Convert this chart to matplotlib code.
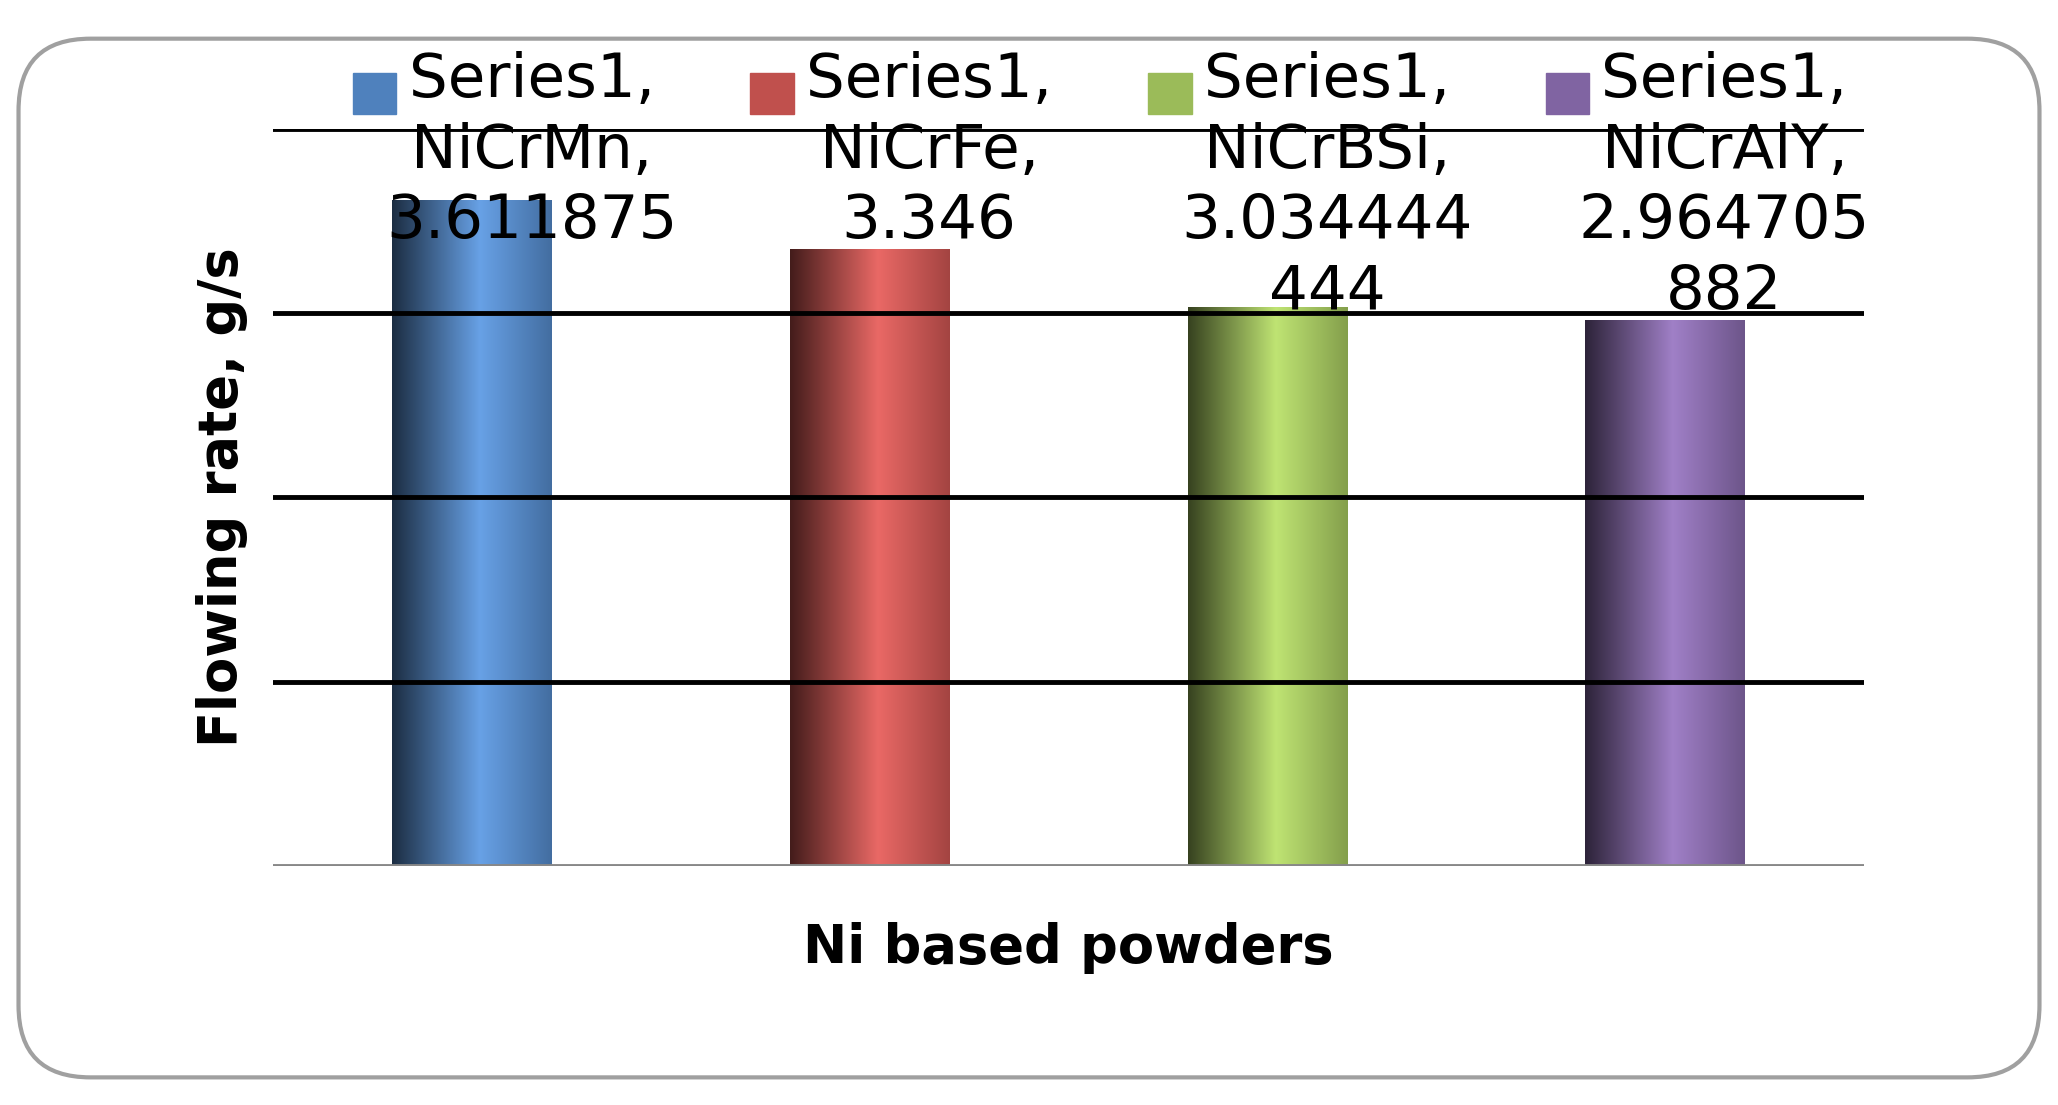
import numpy as np
import matplotlib
matplotlib.use("Agg")
import matplotlib.pyplot as plt
from matplotlib.patches import FancyBboxPatch, Rectangle
from matplotlib.colors import LinearSegmentedColormap, to_rgb

powders = ["NiCrMn", "NiCrFe", "NiCrBSi", "NiCrAlY"]
values = [3.611875, 3.346, 3.034444444, 2.964705882]
label_texts = ["Series1,\nNiCrMn,\n3.611875", "Series1,\nNiCrFe,\n3.346",
               "Series1,\nNiCrBSi,\n3.034444\n444", "Series1,\nNiCrAlY,\n2.964705\n882"]
colors = ["#4F81BD", "#C0504D", "#9BBB59", "#8064A2"]
yticks = [1, 2, 3, 4]

fig = plt.figure(figsize=(20.58, 11.05), dpi=100)
border = FancyBboxPatch((0.009, 0.025), 0.982, 0.94,
                        boxstyle="round,pad=0,rounding_size=0.035",
                        transform=fig.transFigure, fc="white",
                        ec="#a0a0a0", lw=3, mutation_aspect=1.86, zorder=-5)
fig.patches.append(border)
ax = fig.add_axes([0.1327, 0.216, 0.7729, 0.6676])
ax.set_facecolor("none")
x = np.arange(len(powders))
bars = ax.bar(x, values, width=0.4, color=colors, zorder=2)


def shade(c):
    r = np.array(to_rgb(c))
    dark = r * 0.35
    light = np.minimum(r * 1.15 + 0.05, 1)
    return LinearSegmentedColormap.from_list("s", [(0, dark), (0.55, light), (1, r * 0.85)])


grad = np.linspace(0, 1, 256).reshape(1, -1)
for b, c in zip(bars, colors):
    im = ax.imshow(grad, cmap=shade(c), aspect="auto", zorder=2,
                   extent=[b.get_x(), b.get_x() + b.get_width(), 0, b.get_height()])
    im.set_clip_path(b)

ax.set_xlim(-0.5, 3.5)
ax.set_ylim(0, 4)
for t in yticks:
    ax.axhline(t, color="black", lw=3.5, zorder=3)
ax.axhline(0, color="#888888", lw=3.5, zorder=3)
for s in ax.spines.values():
    s.set_visible(False)
ax.set_xticks([])
ax.set_yticks([])

for xi, txt in zip(x, label_texts):
    ax.text(xi + 0.15, 4.42, txt, ha="center", va="top", fontsize=44,
            linespacing=1.25, zorder=4)
    ax.add_patch(Rectangle((xi - 0.3, 4.08), 0.11, 0.22, color=colors[xi],
                           clip_on=False, zorder=4))

ax.set_ylabel("Flowing rate, g/s", fontsize=38, fontweight="bold", labelpad=18)
ax.set_xlabel("Ni based powders", fontsize=38, fontweight="bold", labelpad=40)
fig.savefig("out.png", dpi=100)
